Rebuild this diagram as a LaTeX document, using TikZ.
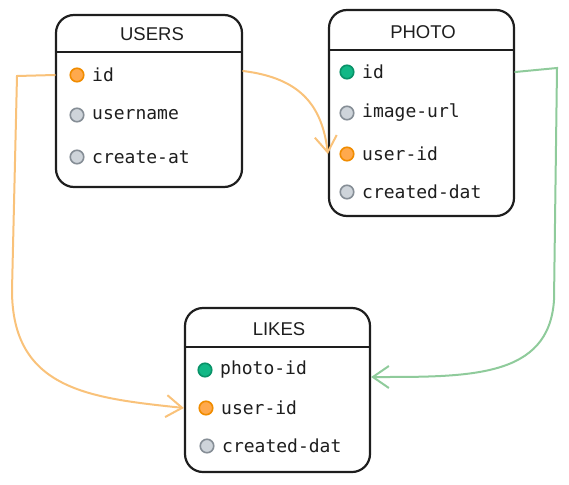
\documentclass[tikz,border=0pt]{standalone}
\usepackage{fontspec}
\setmainfont{Liberation Sans}
\setmonofont{DejaVu Sans Mono}
\usepackage{xcolor}
\usepackage{tikz}
\usetikzlibrary{arrows}
\usetikzlibrary{arrows.meta}
\usetikzlibrary{calc}
\usetikzlibrary{positioning}

\definecolor{inkblack}{HTML}{1E1E1E}
\definecolor{linkorange}{HTML}{F9C27A}
\definecolor{linkgreen}{HTML}{8FCB9B}
\definecolor{keyorange}{HTML}{FFA94D}
\definecolor{keyorangedark}{HTML}{F08C00}
\definecolor{keygreen}{HTML}{12B886}
\definecolor{keygreendark}{HTML}{099268}
\definecolor{keygray}{HTML}{CED4DA}
\definecolor{keygraydark}{HTML}{868E96}

\tikzset{
  table/.style={draw=inkblack, line width=2.2pt, rounded corners=18pt,
    inner sep=0pt},
  title/.style={text=inkblack, font=\fontsize{18.5}{22}\selectfont},
  field/.style={text=inkblack, anchor=west, inner sep=0pt,
    font=\ttfamily\fontsize{18}{22}\selectfont},
  dot/.style={circle, minimum size=13.5pt, inner sep=0pt, line width=1.6pt},
  fk/.style={dot, fill=keyorange, draw=keyorangedark},
  pk/.style={dot, fill=keygreen, draw=keygreendark},
  plain/.style={dot, fill=keygray, draw=keygraydark},
  link/.style={line width=2pt, line cap=round,
    -{Straight Barb[length=16pt, width=22pt, line width=2pt]}}
}

\begin{document}
\begin{tikzpicture}[x=1pt, y=-1pt]

    \useasboundingbox (0, 0) rectangle (569, 484);

    \node [table, minimum width=186pt, minimum height=172pt] (users) at (149, 101) {};
    \node [title] (usersTitle) at (152, 34) {USERS};
    \draw [inkblack, line width=2.4pt] (users.west |- 0, 52) -- (users.east |- 0, 52);
    \node [fk] (usersIdDot) at (77, 75) {};
    \node [field] (usersId) at (92, 75) {id};
    \node [plain] (usersNameDot) at (77, 115) {};
    \node [field] (usersName) at (92, 115) {username};
    \node [plain] (usersAtDot) at (77, 157) {};
    \node [field] (usersAt) at (92, 157) {create-at};

    \node [table, minimum width=185pt, minimum height=206pt] (photo) at (421.5, 113) {};
    \node [title] (photoTitle) at (423, 32) {PHOTO};
    \draw [inkblack, line width=2.4pt] (photo.west |- 0, 50) -- (photo.east |- 0, 50);
    \node [pk] (photoIdDot) at (347, 72) {};
    \node [field] (photoId) at (362, 72) {id};
    \node [plain] (photoUrlDot) at (347, 113) {};
    \node [field] (photoUrl) at (362, 113) {image-url};
    \node [fk] (photoUserDot) at (347, 154) {};
    \node [field] (photoUser) at (362, 154) {user-id};
    \node [plain] (photoAtDot) at (347, 192) {};
    \node [field] (photoAt) at (362, 192) {created-dat};

    \node [table, minimum width=185pt, minimum height=164pt] (likes) at (277.5, 390) {};
    \node [title] (likesTitle) at (279, 329) {LIKES};
    \draw [inkblack, line width=2.4pt] (likes.west |- 0, 347) -- (likes.east |- 0, 347);
    \node [pk] (likesPhotoDot) at (205, 370) {};
    \node [field] (likesPhoto) at (220, 370) {photo-id};
    \node [fk] (likesUserDot) at (206, 408) {};
    \node [field] (likesUser) at (221, 408) {user-id};
    \node [plain] (likesAtDot) at (207, 446) {};
    \node [field] (likesAt) at (222, 446) {created-dat};

    \draw [link, linkorange] (users.west |- usersId) -- (17, 76) -- (12, 290)
      .. controls (12, 390) and (90, 398) .. (likes.west |- likesUser);

    \draw [link, linkorange] (users.east |- 0, 71)
      .. controls (300, 78) and (322, 105) .. (photo.west |- photoUser);

    \draw [link, linkgreen] (photo.east |- photoId) -- (557, 68) -- (554, 300)
      .. controls (549, 378) and (470, 377) .. (likes.east |- 0, 377);

\end{tikzpicture}
\end{document}
